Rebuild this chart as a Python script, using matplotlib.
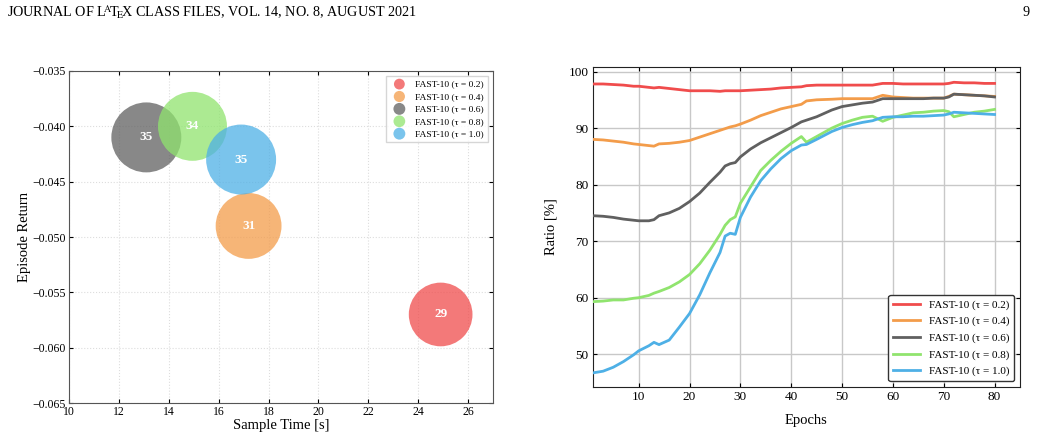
import matplotlib
matplotlib.use("Agg")
import matplotlib.pyplot as plt

plt.rcParams['font.family'] = ['Liberation Serif', 'DejaVu Serif']
plt.rcParams['mathtext.fontset'] = 'stix'

# ---- data: bubble chart (left) ----
labels = ['FAST-10 (τ = 0.2)', 'FAST-10 (τ = 0.4)', 'FAST-10 (τ = 0.6)',
          'FAST-10 (τ = 0.8)', 'FAST-10 (τ = 1.0)']
sample_time = [24.9, 17.2, 13.1, 14.95, 16.9]
episode_return = [-0.057, -0.049, -0.041, -0.040, -0.043]
bubble_value = [29, 31, 35, 34, 35]
colors = ['#f04c4c', '#f39c4a', '#606060', '#90e46e', '#4eb0e6']

# ---- data: ratio curves (right) ----
epochs = [1, 3, 5, 7, 9, 10, 12, 13, 14, 16, 18, 20, 22, 24, 26, 27, 28, 29, 30,
          32, 34, 36, 38, 40, 42, 43, 45, 48, 50, 52, 54, 56, 58, 60, 62, 64, 66,
          68, 70, 71, 72, 74, 76, 78, 80]
ratio_02 = [97.8, 97.8, 97.7, 97.6, 97.4, 97.4, 97.2, 97.1, 97.2, 97.0, 96.8, 96.6,
            96.6, 96.6, 96.5, 96.6, 96.6, 96.6, 96.6, 96.7, 96.8, 96.9, 97.1, 97.2,
            97.3, 97.5, 97.6, 97.6, 97.6, 97.6, 97.6, 97.6, 97.9, 97.9, 97.8, 97.8,
            97.8, 97.8, 97.8, 97.9, 98.1, 98.0, 98.0, 97.9, 97.9]
ratio_04 = [88.0, 87.9, 87.7, 87.5, 87.2, 87.1, 86.9, 86.8, 87.2, 87.3, 87.5, 87.8,
            88.4, 89.0, 89.6, 89.9, 90.2, 90.4, 90.7, 91.4, 92.2, 92.8, 93.4, 93.8,
            94.2, 94.8, 95.0, 95.1, 95.2, 95.2, 95.2, 95.2, 95.8, 95.5, 95.4, 95.3,
            95.3, 95.3, 95.3, 95.6, 96.0, 95.9, 95.8, 95.7, 95.6]
ratio_06 = [74.5, 74.4, 74.2, 73.9, 73.7, 73.6, 73.6, 73.8, 74.5, 75.0, 75.8, 77.0,
            78.5, 80.4, 82.2, 83.3, 83.7, 83.9, 84.9, 86.3, 87.4, 88.3, 89.2, 90.1,
            91.1, 91.4, 92.0, 93.2, 93.8, 94.1, 94.4, 94.6, 95.2, 95.2, 95.2, 95.2,
            95.2, 95.3, 95.3, 95.5, 96.0, 95.9, 95.8, 95.7, 95.5]
ratio_08 = [59.3, 59.4, 59.6, 59.6, 59.9, 60.0, 60.4, 60.8, 61.1, 61.8, 62.8, 64.1,
            66.0, 68.4, 71.2, 72.8, 73.8, 74.3, 76.7, 79.6, 82.5, 84.3, 85.9, 87.3,
            88.5, 87.5, 88.5, 90.0, 90.8, 91.4, 91.9, 92.1, 91.2, 91.9, 92.3, 92.7,
            92.8, 93.0, 93.1, 92.9, 92.0, 92.4, 92.8, 93.0, 93.3]
ratio_10 = [46.7, 47.0, 47.7, 48.7, 49.9, 50.6, 51.5, 52.1, 51.7, 52.5, 54.8, 57.2,
            60.5, 64.4, 68.0, 70.9, 71.4, 71.2, 74.2, 77.8, 80.7, 82.8, 84.6, 86.0,
            87.0, 87.1, 88.0, 89.4, 90.1, 90.6, 91.0, 91.3, 91.9, 92.0, 92.0, 92.1,
            92.1, 92.2, 92.3, 92.5, 92.8, 92.7, 92.6, 92.5, 92.4]
ratios = [ratio_02, ratio_04, ratio_06, ratio_08, ratio_10]

fig = plt.figure(figsize=(10.41, 4.38), dpi=100)

# page header
fig.text(0.007, 0.972, r'JOURNAL OF L$\!^{\mathrm{A}}\!$T$\!_{\mathrm{E}}\!$X CLASS FILES, VOL. 14, NO. 8, AUGUST 2021',
         fontsize=10.2, ha='left', va='center')
fig.text(0.989, 0.972, '9', fontsize=10.2, ha='right', va='center')

# left: bubble chart
ax1 = fig.add_axes([0.0663, 0.0799, 0.4073, 0.758])
for x, y, v, c, lab in zip(sample_time, episode_return, bubble_value, colors, labels):
    ax1.scatter(x, y, s=v * 72.5, color=c, alpha=0.75, edgecolors='none', label=lab, zorder=3)
    ax1.text(x, y, str(v), color='white', fontsize=9.5, fontweight='bold',
             ha='center', va='center', zorder=4)
ax1.set_xlim(10, 27)
ax1.set_ylim(-0.065, -0.035)
ax1.set_xticks(range(10, 27, 2))
ax1.set_yticks([-0.065, -0.060, -0.055, -0.050, -0.045, -0.040, -0.035])
ax1.set_yticklabels(['−0.065', '−0.060', '−0.055', '−0.050', '−0.045', '−0.040', '−0.035'])
ax1.grid(True, linestyle=':', color='#dddddd', linewidth=0.8, zorder=0)
ax1.tick_params(direction='in', top=True, right=True, labelsize=8.5, length=3, width=0.8, pad=2)
ax1.set_xlabel('Sample Time [s]', fontsize=10.5, labelpad=1)
ax1.set_ylabel('Episode Return', fontsize=10.5, labelpad=1)
for sp in ax1.spines.values():
    sp.set_color('#555555')
leg1 = ax1.legend(loc='upper right', fontsize=6.8, markerscale=0.17, frameon=True,
                  handletextpad=0.7, borderpad=0.45, labelspacing=0.4,
                  fancybox=False, edgecolor='#cccccc')

# right: ratio curves
ax2 = fig.add_axes([0.5696, 0.1164, 0.4102, 0.7306])
for r, c, lab in zip(ratios, colors, labels):
    ax2.plot(epochs, r, color=c, linewidth=2.0, label=lab, zorder=3)
ax2.set_xlim(1, 85)
ax2.set_ylim(44.2, 100.8)
ax2.set_xticks(range(10, 81, 10))
ax2.set_yticks(range(50, 101, 10))
ax2.grid(True, color='#c8c8c8', linewidth=1.0, zorder=0)
ax2.tick_params(direction='in', top=True, right=True, labelsize=9.5, length=3, width=0.8, pad=3)
ax2.set_xlabel('Epochs', fontsize=10.5, labelpad=8)
ax2.set_ylabel('Ratio [%]', fontsize=10.5, labelpad=8)
for sp in ax2.spines.values():
    sp.set_color('#222222')
leg2 = ax2.legend(loc='lower right', fontsize=8, frameon=True, fancybox=True,
                  handlelength=2.4, labelspacing=0.6, borderpad=0.45,
                  edgecolor='#333333', framealpha=1)
leg2.get_frame().set_linewidth(1.0)

fig.savefig('out.png', dpi=100)
